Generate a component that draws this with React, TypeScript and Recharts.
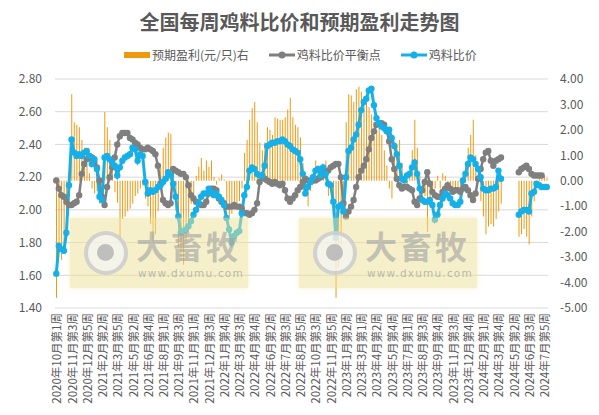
import React from "react";
import { ComposedChart, Bar, Line, XAxis, YAxis, CartesianGrid } from "recharts";

// tick labels shown on the x axis (every 6th week)
const TICK_LABELS = [
  "2020年10月第1周", "2020年11月第3周", "2020年12月第5周", "2021年2月第2周", "2021年3月第5周",
  "2021年5月第2周", "2021年6月第4周", "2021年8月第1周", "2021年9月第3周", "2021年11月第1周",
  "2021年12月第3周", "2022年1月第4周", "2022年3月第3周", "2022年4月第4周", "2022年6月第2周",
  "2022年7月第3周", "2022年8月第5周", "2022年10月第3周", "2022年11月第5周", "2023年1月第2周",
  "2023年3月第1周", "2023年4月第2周", "2023年5月第4周", "2023年7月第1周", "2023年8月第3周",
  "2023年9月第4周", "2023年11月第3周", "2023年12月第4周", "2024年2月第1周", "2024年3月第4周",
  "2024年5月第2周", "2024年6月第3周", "2024年7月第5周",
];
const TICK_EVERY = 6;

// 预期盈利(元/只) — right axis
const PROFIT = [
  -4.6, -2.5, -3.1, -2.6, -1.8, -0.5, 3.4, 2.3, 2.2, 2.1,
  1.6, 1.3, 0.6, 0.3, -0.3, -0.5, -0.4, -0.9, -0.3, 2.7,
  2.1, 1.6, 0.6, -0.45, -0.85, -2.3, -1.5, -1.4, -1.2, -1.1,
  -0.9, -0.6, -0.5, -0.3, -0.2, -0.7, -1.0, -1.7, -2.45, -2.1,
  -1.2, 0.5, 1.3, 1.7, 1.9, 1.85, -0.3, -1.2, -2.6, -3.1,
  -3.3, -2.4, -1.6, -0.9, -0.6, 0.2, 0.55, 0.9, 0.4, 0.8,
  0.55, 0.8, 0.15, -0.15, 0.1, 0.25, 0.05, -1.15, -1.4, -1.3,
  -1.15, -1.0, -0.8, -0.3, 1.1, 1.6, 2.4, 2.85, 3.1, 2.3,
  1.5, 1.2, 1.5, 2.1, 2.0, 1.8, 2.5, 2.45, 2.4, 2.4,
  2.5, 2.8, 3.25, 2.5, 2.2, 2.1, 1.7, 0.7, -0.3, -1.0,
  -0.4, 0.2, 0.8, 0.6, 0.4, 0.4, 0.8, -0.6, -0.2, -1.0,
  -4.6, -3.4, -2.5, -0.9, 2.3, 3.4, 3.35, 3.1, 3.6, 3.7,
  3.5, 3.3, 3.1, 2.9, 2.6, 2.3, 2.0, 2.2, 1.8, 1.2,
  0.6, -0.3, -0.7, 1.0, 1.4, 1.6, 0.7, -0.3, -0.2, 0.3,
  1.2, 2.4, 1.3, 0.2, -0.4, -0.6, -2.0, -1.0, -0.6, -0.3,
  0.2, -0.3, 0.3, 0.2, -0.2, -0.4, -0.3, -0.4, -0.3, -0.2,
  0.2, 0.6, 1.3, 1.8, 2.4, 1.0, 0.3, -0.8, -1.4, -2.1,
  -1.8, -1.7, -1.8, -1.5, -1.2, -0.9, null, null, null, null,
  null, null, -2.2, -2.1, -1.9, -2.2, -2.5, -1.4, -0.8, -0.2,
  0.3, 0.3, 0.2, 0.1,
];

// 鸡料比价平衡点 — left axis
const BREAK_EVEN = [
  2.18, 2.13, 2.09, 2.08, 2.05, 2.03, 2.03, 2.04, 2.05, 2.09,
  2.22, 2.28, 2.31, 2.33, 2.32, 2.29, 2.26, 2.18, 2.08, 2.03,
  2.14, 2.20, 2.26, 2.32, 2.40, 2.45, 2.47, 2.47, 2.47, 2.44,
  2.43, 2.41, 2.40, 2.38, 2.37, 2.37, 2.38, 2.37, 2.36, 2.34,
  2.27, 2.16, 2.06, 2.04, 2.03, 2.04, 2.25, 2.24, 2.23, 2.22,
  2.22, 2.20, 2.15, 2.09, 2.07, 2.05, 2.04, 2.03, 2.03, 2.05,
  2.10, 2.13, 2.13, 2.12, 2.07, 2.05, 2.04, 2.02, 2.02, 2.02,
  2.03, 2.02, 2.02, 2.01, 1.98, 1.98, 1.97, 1.98, 2.00, 2.04,
  2.17, 2.21, 2.19, 2.18, 2.17, 2.16, 2.17, 2.16, 2.15, 2.16,
  2.12, 2.07, 2.05, 2.07, 2.09, 2.12, 2.14, 2.17, 2.19, 2.18,
  2.17, 2.18, 2.18, 2.19, 2.20, 2.21, 2.23, 2.24, 2.26, 2.27,
  2.28, 2.28, 2.20, 2.04, 1.96, 1.99, 2.02, 2.06, 2.14, 2.20,
  2.24, 2.27, 2.31, 2.37, 2.44, 2.48, 2.52, 2.53, 2.53, 2.52,
  2.49, 2.42, 2.31, 2.25, 2.19, 2.15, 2.13, 2.14, 2.14, 2.13,
  2.12, 2.05, 2.03, 2.07, 2.12, 2.17, 2.23, 2.16, 2.11, 2.09,
  2.08, 2.08, 2.11, 2.13, 2.15, 2.13, 2.11, 2.12, 2.12, 2.11,
  2.13, 2.14, 2.12, 2.09, 2.06, 2.10, 2.19, 2.25, 2.31, 2.35,
  2.36, 2.30, 2.27, 2.30, 2.31, 2.32, null, null, null, null,
  null, null, 2.23, 2.25, 2.26, 2.27, 2.25, 2.22, 2.21, 2.21,
  2.21, 2.21, null, null,
];

// 鸡料比价 — left axis
const RATIO = [
  1.61, 1.78, 1.76, 1.75, 1.86, 2.15, 2.43, 2.35, 2.33, 2.34,
  2.33, 2.35, 2.36, 2.33, 2.28, 2.31, 2.25, 2.08, 2.06, 2.32,
  2.33, 2.31, 2.29, 2.27, 2.21, 2.26, 2.30, 2.32, 2.33, 2.34,
  2.38, 2.37, 2.30, 2.34, 2.33, 2.17, 2.10, 2.12, 2.11, 2.12,
  2.14, 2.15, 2.17, 2.19, 2.23, 2.21, 2.16, 2.08, 1.96, 1.86,
  1.87, 1.88, 1.90, 1.93, 1.97, 2.00, 2.04, 2.08, 2.10, 2.10,
  2.13, 2.11, 2.09, 2.10, 2.08, 2.06, 2.03, 1.95, 1.88, 1.80,
  1.84, 1.86, 1.87, 1.98, 2.09, 2.14, 2.24, 2.26, 2.25, 2.22,
  2.21, 2.21, 2.27, 2.39, 2.40, 2.41, 2.41, 2.42, 2.42, 2.43,
  2.42, 2.40, 2.39, 2.37, 2.36, 2.35, 2.31, 2.22, 2.10, 2.14,
  2.17, 2.20, 2.24, 2.25, 2.21, 2.26, 2.22, 2.16, 2.15, 2.05,
  1.83, 2.02, 2.03, 1.99, 2.20, 2.36, 2.38, 2.43, 2.46, 2.52,
  2.61, 2.66, 2.68, 2.73, 2.74, 2.64, 2.56, 2.53, 2.51, 2.50,
  2.48, 2.49, 2.44, 2.39, 2.34, 2.27, 2.19, 2.18, 2.21, 2.22,
  2.26, 2.29, 2.22, 2.13, 2.06, 2.05, 2.05, 2.06, 2.03, 1.94,
  1.97, 2.03, 2.07, 2.10, 2.09, 2.07, 2.04, 2.03, 2.03, 2.05,
  2.18, 2.22, 2.28, 2.32, 2.31, 2.28, 2.25, 2.20, 2.13, 2.12,
  2.12, 2.13, 2.13, 2.14, 2.24, 2.19, null, null, null, null,
  null, null, 1.97, 1.99, 2.00, 2.00, 1.99, 2.10, 2.11, 2.16,
  2.15, 2.14, 2.14, 2.14,
];

const LEFT_TICKS = [1.4, 1.6, 1.8, 2.0, 2.2, 2.4, 2.6, 2.8];
const RIGHT_TICKS = [-5, -4, -3, -2, -1, 0, 1, 2, 3, 4];

const data = RATIO.map((r, i) => ({
  week: i % TICK_EVERY === 0 ? TICK_LABELS[i / TICK_EVERY] ?? "" : "",
  profit: PROFIT[i],
  breakEven: BREAK_EVEN[i],
  ratio: r,
}));

const FONT = '"Noto Sans CJK SC", "Noto Sans", sans-serif';
const TEXT = "#595959";
const ORANGE = "#F0990F";
const GRAY = "#7F7F7F";
const BLUE = "#16B0E8";

const WeekTick = (props: any) => {
  const { x, y, payload } = props;
  return (
    <text
      transform={`translate(${x},${y}) rotate(-90)`}
      textAnchor="end"
      dominantBaseline="central"
      fontSize={11.5}
      fontFamily={FONT}
      fill={TEXT}
    >
      {payload.value}
    </text>
  );
};

const Watermark = ({ left }: { left: number }) => (
  <div
    style={{
      position: "absolute",
      left,
      top: 218,
      width: 178,
      height: 70,
      background: "rgba(236,226,150,0.5)",
      boxShadow: "0 0 4px rgba(236,226,150,0.5)",
      pointerEvents: "none",
    }}
  >
    <div
      style={{
        position: "absolute",
        left: 14,
        top: 13,
        width: 36,
        height: 36,
        borderRadius: "50%",
        border: "4px solid rgba(200,200,200,0.8)",
        background: "rgba(245,245,245,0.7)",
      }}
    >
      <div
        style={{
          position: "absolute",
          left: 9,
          top: 9,
          width: 17,
          height: 17,
          borderRadius: "50%",
          background: "rgba(185,185,185,0.9)",
        }}
      />
    </div>
    <div
      style={{
        position: "absolute",
        left: 66,
        top: 10,
        fontSize: 32,
        lineHeight: "34px",
        fontWeight: 700,
        letterSpacing: 3,
        color: "rgba(160,160,160,0.6)",
        fontFamily: FONT,
      }}
    >
      大畜牧
    </div>
    <div
      style={{
        position: "absolute",
        left: 68,
        top: 49,
        fontSize: 10.5,
        lineHeight: "12px",
        letterSpacing: 1.2,
        color: "rgba(160,160,160,0.7)",
        fontFamily: "'DejaVu Sans', sans-serif",
      }}
    >
      www.dxumu.com
    </div>
  </div>
);

const LegendItem = ({ kind, color, label }: { kind: "bar" | "line"; color: string; label: string }) => (
  <div style={{ display: "flex", alignItems: "center", gap: 2 }}>
    {kind === "bar" ? (
      <div style={{ width: 26, height: 6, background: color }} />
    ) : (
      <svg width={26} height={10}>
        <line x1={0} y1={5} x2={26} y2={5} stroke={color} strokeWidth={3} />
        <circle cx={13} cy={5} r={3.5} fill={color} />
      </svg>
    )}
    <span style={{ fontSize: 12, color: TEXT, fontFamily: FONT, lineHeight: "16px" }}>{label}</span>
  </div>
);

export default function App() {
  return (
    <div
      style={{
        position: "absolute",
        left: 0,
        top: 0,
        width: 599,
        height: 415,
        background: "#fff",
        overflow: "hidden",
      }}
    >
      <div
        style={{
          position: "absolute",
          top: 9,
          left: 0,
          width: 599,
          textAlign: "center",
          fontSize: 20,
          fontWeight: 700,
          color: TEXT,
          fontFamily: FONT,
          lineHeight: "26px",
        }}
      >
        全国每周鸡料比价和预期盈利走势图
      </div>
      <div
        style={{
          position: "absolute",
          top: 47,
          left: 124,
          display: "flex",
          gap: 20,
        }}
      >
        <LegendItem kind="bar" color={ORANGE} label="预期盈利(元/只)右" />
        <LegendItem kind="line" color={GRAY} label="鸡料比价平衡点" />
        <LegendItem kind="line" color={BLUE} label="鸡料比价" />
      </div>
      <ComposedChart
        width={599}
        height={415}
        data={data}
        margin={{ top: 79, right: 0, left: 0, bottom: 0 }}
        barCategoryGap={0}
      >
        <CartesianGrid yAxisId="left" vertical={false} stroke="#D9D9D9" />
        <XAxis
          dataKey="week"
          interval={TICK_EVERY - 1}
          tick={<WeekTick />}
          tickLine={false}
          axisLine={false}
          tickSize={0}
          tickMargin={5}
          height={107}
        />
        <YAxis
          yAxisId="left"
          orientation="left"
          domain={[1.4, 2.8]}
          ticks={LEFT_TICKS}
          tickFormatter={(v) => Number(v).toFixed(2)}
          tick={{ fontSize: 12, fill: TEXT, fontFamily: FONT }}
          tickLine={false}
          axisLine={false}
          tickSize={0}
          tickMargin={13}
          width={55}
        />
        <YAxis
          yAxisId="right"
          orientation="right"
          domain={[-5, 4]}
          ticks={RIGHT_TICKS}
          tickFormatter={(v) => Number(v).toFixed(2)}
          tick={{ fontSize: 12, fill: TEXT, fontFamily: FONT }}
          tickLine={false}
          axisLine={false}
          tickSize={0}
          tickMargin={12}
          width={51}
        />
        <Bar yAxisId="right" dataKey="profit" fill={ORANGE} barSize={1} isAnimationActive={false} />
        <Line
          yAxisId="left"
          dataKey="breakEven"
          stroke={GRAY}
          strokeWidth={2.5}
          dot={{ r: 3.2, fill: GRAY, stroke: GRAY, strokeWidth: 0 }}
          connectNulls={false}
          isAnimationActive={false}
        />
        <Line
          yAxisId="left"
          dataKey="ratio"
          stroke={BLUE}
          strokeWidth={3}
          dot={{ r: 3.2, fill: BLUE, stroke: BLUE, strokeWidth: 0 }}
          connectNulls={false}
          isAnimationActive={false}
        />
      </ComposedChart>
      <Watermark left={70} />
      <Watermark left={299} />
    </div>
  );
}
